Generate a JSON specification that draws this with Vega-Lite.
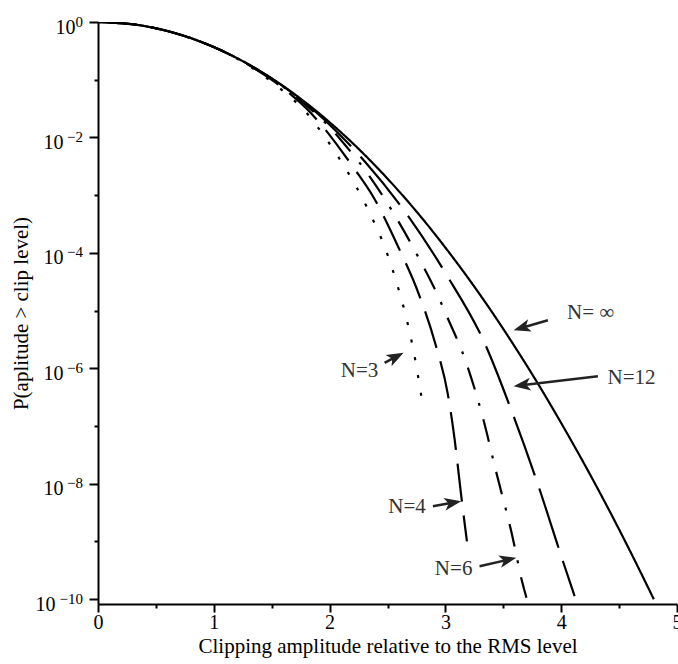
{
  "$schema": "https://vega.github.io/schema/vega-lite/v6.json",
  "width": 579,
  "height": 582,
  "autosize": {"type": "none"},
  "padding": {"left": 98, "top": 22, "right": 1, "bottom": 60},
  "background": "white",
  "config": {"view": {"stroke": null}, "font": "Liberation Serif"},
  "datasets": {
    "curves": [
      {"series": "inf", "a": 0, "p": 1}, {"series": "inf", "a": 0.2, "p": 0.961}, {"series": "inf", "a": 0.4, "p": 0.852}, {"series": "inf", "a": 0.6, "p": 0.698}, {"series": "inf", "a": 0.8, "p": 0.527}, {"series": "inf", "a": 1.0, "p": 0.368}, {"series": "inf", "a": 1.2, "p": 0.237}, {"series": "inf", "a": 1.4, "p": 0.141}, {"series": "inf", "a": 1.6, "p": 0.0773}, {"series": "inf", "a": 1.8, "p": 0.0392}, {"series": "inf", "a": 2.0, "p": 0.0183}, {"series": "inf", "a": 2.2, "p": 0.00791}, {"series": "inf", "a": 2.4, "p": 0.00315}, {"series": "inf", "a": 2.6, "p": 0.00116}, {"series": "inf", "a": 2.8, "p": 3.94e-4}, {"series": "inf", "a": 3.0, "p": 1.23e-4}, {"series": "inf", "a": 3.2, "p": 3.57e-5}, {"series": "inf", "a": 3.4, "p": 9.55e-6}, {"series": "inf", "a": 3.6, "p": 2.35e-6}, {"series": "inf", "a": 3.8, "p": 5.36e-7}, {"series": "inf", "a": 4.0, "p": 1.12e-7}, {"series": "inf", "a": 4.2, "p": 2.18e-8}, {"series": "inf", "a": 4.4, "p": 3.91e-9}, {"series": "inf", "a": 4.6, "p": 6.46e-10}, {"series": "inf", "a": 4.8, "p": 9.9e-11},
      {"series": "12", "a": 0, "p": 1}, {"series": "12", "a": 0.4, "p": 0.852}, {"series": "12", "a": 0.8, "p": 0.527}, {"series": "12", "a": 1.2, "p": 0.237}, {"series": "12", "a": 1.6, "p": 0.0767}, {"series": "12", "a": 1.8, "p": 0.038}, {"series": "12", "a": 2.0, "p": 0.0166}, {"series": "12", "a": 2.302, "p": 3.87e-3}, {"series": "12", "a": 2.648, "p": 5.26e-4}, {"series": "12", "a": 3.008, "p": 4.21e-5}, {"series": "12", "a": 3.338, "p": 2.75e-6}, {"series": "12", "a": 3.583, "p": 1.58e-7}, {"series": "12", "a": 3.785, "p": 1.17e-8}, {"series": "12", "a": 4.015, "p": 4.52e-10}, {"series": "12", "a": 4.116, "p": 1.12e-10},
      {"series": "6", "a": 0, "p": 1}, {"series": "6", "a": 0.4, "p": 0.852}, {"series": "6", "a": 0.8, "p": 0.527}, {"series": "6", "a": 1.2, "p": 0.236}, {"series": "6", "a": 1.4, "p": 0.138}, {"series": "6", "a": 1.6, "p": 0.0755}, {"series": "6", "a": 1.8, "p": 0.0355}, {"series": "6", "a": 2.0, "p": 0.0151}, {"series": "6", "a": 2.13, "p": 7.53e-3}, {"series": "6", "a": 2.259, "p": 3.63e-3}, {"series": "6", "a": 2.533, "p": 5.62e-4}, {"series": "6", "a": 2.777, "p": 7.66e-5}, {"series": "6", "a": 2.95, "p": 1.55e-5}, {"series": "6", "a": 2.993, "p": 9.77e-6}, {"series": "6", "a": 3.18, "p": 1.24e-6}, {"series": "6", "a": 3.324, "p": 1.38e-7}, {"series": "6", "a": 3.44, "p": 1.55e-8}, {"series": "6", "a": 3.569, "p": 1.48e-9}, {"series": "6", "a": 3.669, "p": 1.78e-10}, {"series": "6", "a": 3.70, "p": 1.05e-10},
      {"series": "4", "a": 0, "p": 1}, {"series": "4", "a": 0.4, "p": 0.852}, {"series": "4", "a": 0.8, "p": 0.526}, {"series": "4", "a": 1.2, "p": 0.235}, {"series": "4", "a": 1.4, "p": 0.135}, {"series": "4", "a": 1.6, "p": 0.0708}, {"series": "4", "a": 1.8, "p": 0.0316}, {"series": "4", "a": 1.957, "p": 0.0141}, {"series": "4", "a": 2.115, "p": 5.41e-3}, {"series": "4", "a": 2.216, "p": 2.82e-3}, {"series": "4", "a": 2.374, "p": 9.55e-4}, {"series": "4", "a": 2.59, "p": 1.30e-4}, {"series": "4", "a": 2.771, "p": 1.91e-5}, {"series": "4", "a": 2.915, "p": 2.57e-6}, {"series": "4", "a": 3.021, "p": 3.55e-7}, {"series": "4", "a": 3.08, "p": 5.81e-8}, {"series": "4", "a": 3.137, "p": 6.05e-9}, {"series": "4", "a": 3.186, "p": 1.0e-9},
      {"series": "3", "a": 0, "p": 1}, {"series": "3", "a": 0.4, "p": 0.852}, {"series": "3", "a": 0.8, "p": 0.525}, {"series": "3", "a": 1.2, "p": 0.233}, {"series": "3", "a": 1.4, "p": 0.129}, {"series": "3", "a": 1.6, "p": 0.0631}, {"series": "3", "a": 1.813, "p": 0.0249}, {"series": "3", "a": 1.9, "p": 0.0148}, {"series": "3", "a": 2.086, "p": 4.26e-3}, {"series": "3", "a": 2.317, "p": 6.46e-4}, {"series": "3", "a": 2.503, "p": 8.97e-5}, {"series": "3", "a": 2.598, "p": 2.25e-5}, {"series": "3", "a": 2.676, "p": 5.75e-6}, {"series": "3", "a": 2.74, "p": 1.38e-6}, {"series": "3", "a": 2.792, "p": 3.27e-7}
    ],
    "labels": [
      {"text": "N= ∞", "a": 4.254, "p": 9.23e-6},
      {"text": "N=12", "a": 4.608, "p": 6.9e-7},
      {"text": "N=3", "a": 2.258, "p": 9.1e-7},
      {"text": "N=4", "a": 2.669, "p": 3.93e-9},
      {"text": "N=6", "a": 3.071, "p": 3.38e-10}
    ],
    "exponents": [
      {"p": 1, "e": "0"},
      {"p": 0.01, "e": "−2"},
      {"p": 1e-4, "e": "−4"},
      {"p": 1e-6, "e": "−6"},
      {"p": 1e-8, "e": "−8"},
      {"p": 1e-10, "e": "−10"}
    ],
    "arrows": [
      {"name": "inf", "a1": 3.885, "p1": 6.79e-6, "a2": 3.655, "p2": 4.98e-6},
      {"name": "12", "a1": 4.317, "p1": 7.26e-7, "a2": 3.657, "p2": 5.06e-7},
      {"name": "3", "a1": 2.475, "p1": 1.24e-6, "a2": 2.578, "p2": 1.60e-6},
      {"name": "4", "a1": 2.892, "p1": 4.07e-9, "a2": 3.069, "p2": 4.69e-9},
      {"name": "6", "a1": 3.295, "p1": 3.70e-10, "a2": 3.545, "p2": 4.82e-10}
    ]
  },
  "layer": [
    {
      "data": {"name": "curves"},
      "mark": {"type": "line", "strokeWidth": 2.2, "color": "black", "interpolate": "monotone", "clip": true},
      "encoding": {
        "x": {
          "field": "a", "type": "quantitative",
          "scale": {"domain": [0, 5], "nice": false, "zero": false},
          "axis": {
            "title": "Clipping amplitude relative to the RMS level",
            "values": [0, 0.5, 1, 1.5, 2, 2.5, 3, 3.5, 4, 4.5, 5],
            "labelExpr": "datum.value % 1 == 0 ? '' + datum.value : ''",
            "grid": false,
            "domainColor": "black", "domainWidth": 2,
            "tickColor": "black", "tickWidth": 2,
            "tickSize": {"condition": {"test": "datum.value % 1 == 0", "value": 8}, "value": 4},
            "labelFont": "Liberation Serif", "labelFontSize": 20, "labelColor": "black",
            "labelPadding": 0, "labelFlush": false, "labelOverlap": false,
            "titleFont": "Liberation Serif", "titleFontSize": 21, "titleFontWeight": "normal", "titleColor": "black",
            "titlePadding": 3
          }
        },
        "y": {
          "field": "p", "type": "quantitative",
          "scale": {"type": "log", "domain": [8.2e-11, 1], "nice": false},
          "axis": {
            "title": "P(aplitude > clip level)",
            "values": [1, 0.1, 0.01, 0.001, 1e-4, 1e-5, 1e-6, 1e-7, 1e-8, 1e-9, 1e-10],
            "labelExpr": "round(log(datum.value)/LN10) % 2 == 0 ? '10' : ''",
            "grid": false,
            "domainColor": "black", "domainWidth": 2,
            "tickColor": "black", "tickWidth": 2,
            "tickSize": {"condition": {"test": "round(log(datum.value)/LN10) % 2 == 0", "value": 9}, "value": 4},
            "labelFont": "Liberation Serif", "labelFontSize": 20, "labelColor": "black",
            "labelBaseline": "alphabetic", "labelOffset": 11,
            "labelPadding": {"condition": [{"test": "round(log(datum.value)/LN10) == 0", "value": 14}, {"test": "round(log(datum.value)/LN10) == -10", "value": 34}], "value": 26},
            "labelFlush": false, "labelOverlap": false,
            "titleFont": "Liberation Serif", "titleFontSize": 21, "titleFontWeight": "normal", "titleColor": "black",
            "titlePadding": 4
          }
        },
        "detail": {"field": "series"},
        "strokeDash": {
          "field": "series", "type": "nominal",
          "scale": {"domain": ["inf", "12", "6", "4", "3"], "range": [[1, 0], [62, 14], [23, 14, 3, 14], [38, 14], [3, 15]]},
          "legend": null
        }
      }
    },
    {
      "data": {"name": "exponents"},
      "mark": {"type": "text", "font": "Liberation Serif", "fontSize": 15, "color": "black", "align": "right", "baseline": "alphabetic", "dx": -15, "dy": 4.5},
      "encoding": {
        "x": {"datum": 0},
        "y": {"field": "p", "type": "quantitative"},
        "text": {"field": "e"}
      }
    },
    {
      "data": {"name": "arrows"},
      "mark": {"type": "rule", "strokeWidth": 2.5, "color": "#222222"},
      "encoding": {
        "x": {"field": "a1", "type": "quantitative"},
        "y": {"field": "p1", "type": "quantitative"},
        "x2": {"field": "a2"},
        "y2": {"field": "p2"}
      }
    },
    {"data": {"values": [{}]}, "mark": {"type": "point", "shape": "M0,0L-2,-0.75L-1.5,0L-2,0.75Z", "filled": true, "opacity": 1, "color": "#222222", "size": 289, "angle": 163.7}, "encoding": {"x": {"datum": 3.589}, "y": {"datum": 4.56e-6}}},
    {"data": {"values": [{}]}, "mark": {"type": "point", "shape": "M0,0L-2,-0.75L-1.5,0L-2,0.75Z", "filled": true, "opacity": 1, "color": "#222222", "size": 289, "angle": 173.2}, "encoding": {"x": {"datum": 3.589}, "y": {"datum": 4.88e-7}}},
    {"data": {"values": [{}]}, "mark": {"type": "point", "shape": "M0,0L-2,-0.75L-1.5,0L-2,0.75Z", "filled": true, "opacity": 1, "color": "#222222", "size": 289, "angle": -27.8}, "encoding": {"x": {"datum": 2.639}, "y": {"datum": 1.85e-6}}},
    {"data": {"values": [{}]}, "mark": {"type": "point", "shape": "M0,0L-2,-0.75L-1.5,0L-2,0.75Z", "filled": true, "opacity": 1, "color": "#222222", "size": 289, "angle": -10}, "encoding": {"x": {"datum": 3.137}, "y": {"datum": 4.95e-9}}},
    {"data": {"values": [{}]}, "mark": {"type": "point", "shape": "M0,0L-2,-0.75L-1.5,0L-2,0.75Z", "filled": true, "opacity": 1, "color": "#222222", "size": 289, "angle": -12.9}, "encoding": {"x": {"datum": 3.612}, "y": {"datum": 5.18e-10}}},
    {
      "data": {"name": "labels"},
      "mark": {"type": "text", "font": "Liberation Serif", "fontSize": 21, "color": "#333333", "align": "center", "baseline": "middle"},
      "encoding": {
        "x": {"field": "a", "type": "quantitative"},
        "y": {"field": "p", "type": "quantitative"},
        "text": {"field": "text"}
      }
    }
  ]
}
